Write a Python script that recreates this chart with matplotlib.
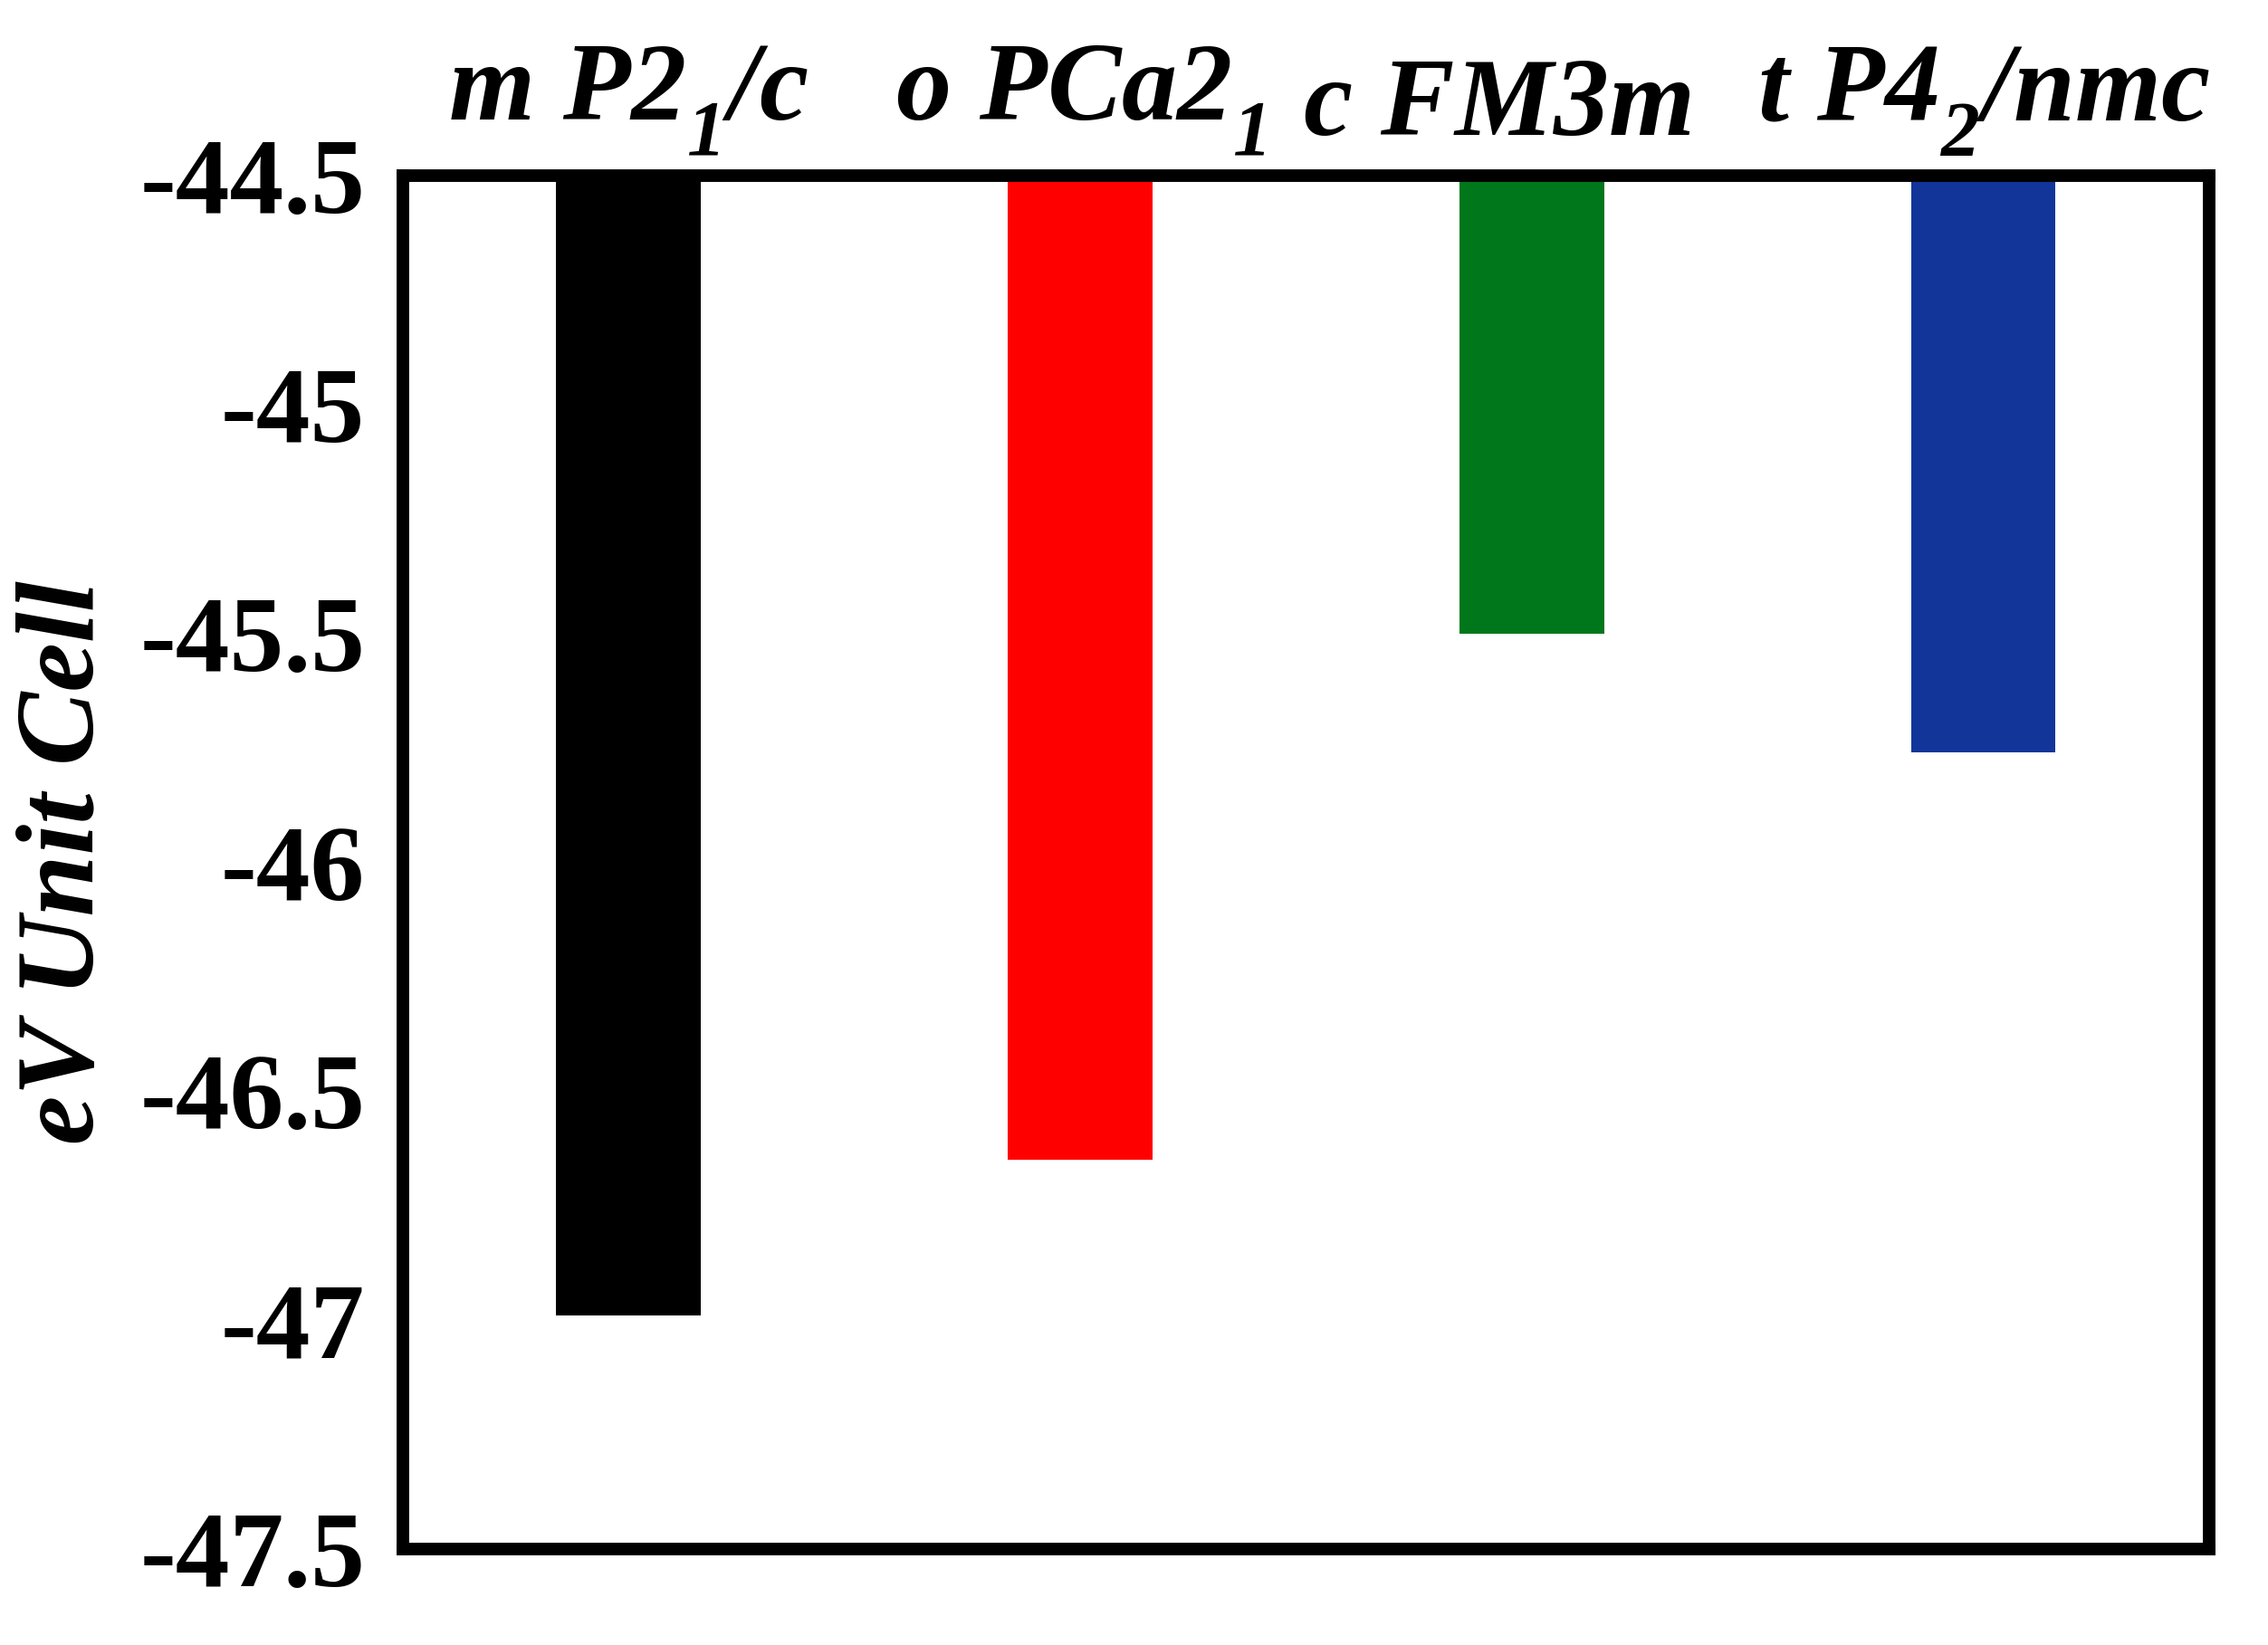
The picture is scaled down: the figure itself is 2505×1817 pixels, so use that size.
import matplotlib
matplotlib.use("Agg")
import matplotlib.pyplot as plt
import matplotlib._mathtext as mathtext_internal
import matplotlib.transforms as mtransforms
import numpy as np

plt.rcParams['font.family'] = ['Liberation Serif', 'DejaVu Serif']
plt.rcParams['mathtext.fontset'] = 'custom'
plt.rcParams['mathtext.rm'] = 'Liberation Serif:italic:bold'
plt.rcParams['mathtext.it'] = 'Liberation Serif:italic:bold'
plt.rcParams['mathtext.bf'] = 'Liberation Serif:italic:bold'
# deeper subscripts, as in the original figure
mathtext_internal.FontConstantsBase.sub1 = 0.7
mathtext_internal.FontConstantsBase.sub2 = 0.7

# phases and total energy per unit cell (eV)
phases = [r'$m\ P2_1/c$', r'$o\ PCa2_1$', r'$c\ FM3m$', r'$t\ P4_2/nmc$']
energies = [-46.99, -46.65, -45.50, -45.76]
colors = ['#000000', '#ff0000', '#00771a', '#12359a']
yticks = [-44.5, -45, -45.5, -46, -46.5, -47, -47.5]
ytick_labels = ['-44.5', '-45', '-45.5', '-46', '-46.5', '-47', '-47.5']

fig = plt.figure(figsize=(25.05, 18.17), dpi=100)
ax = fig.add_axes([0.1776, 0.0583, 0.7964, 0.8349])

x = np.arange(len(phases)) + 0.5
ax.bar(x, energies, width=0.32, color=colors, zorder=1)

ax.set_xlim(0, 4)
ax.set_ylim(-47.5, -44.5)

ax.xaxis.tick_top()
ax.set_xticks(x)
ax.set_xticklabels(phases, fontsize=88)
ax.tick_params(axis='x', length=0, pad=14)

# the cubic label sits a little left of its bar in the original
lbl = ax.get_xticklabels()[2]
lbl.set_transform(lbl.get_transform() + mtransforms.ScaledTranslation(-0.38, 0, fig.dpi_scale_trans))

ax.set_yticks(yticks)
ax.set_yticklabels(ytick_labels, fontsize=86, fontweight='bold')
ax.tick_params(axis='y', direction='in', length=3, width=1, pad=30)

ax.set_ylabel('eV Unit Cell', fontsize=88, fontweight='bold', style='italic', labelpad=18)

for sp in ax.spines.values():
    sp.set_linewidth(10)
    sp.set_zorder(3)

fig.savefig('out.png', dpi=100)
